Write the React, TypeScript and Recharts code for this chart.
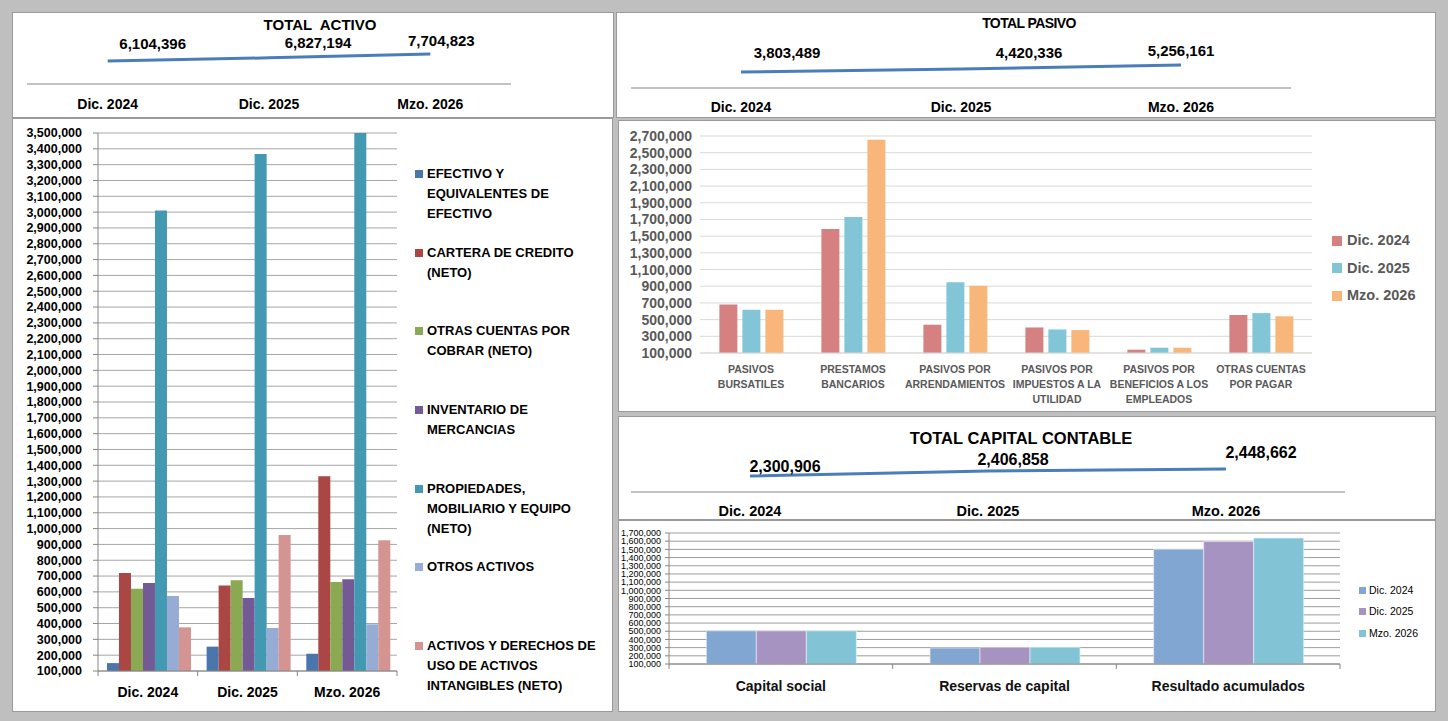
import React from 'react';
import { BarChart, Bar, LineChart, Line, XAxis, YAxis, CartesianGrid, Legend, LabelList } from 'recharts';

const FONT = '"Liberation Sans", Arial, sans-serif';

const periodos = ['Dic. 2024', 'Dic. 2025', 'Mzo. 2026'];

// totales de cabecera
const totalActivo = [6104396, 6827194, 7704823];
const totalPasivo = [3803489, 4420336, 5256161];
const totalCapital = [2300906, 2406858, 2448662];

// activo, un arreglo por rubro (Dic. 2024, Dic. 2025, Mzo. 2026)
const rubrosActivo = [
  'EFECTIVO Y EQUIVALENTES DE EFECTIVO',
  'CARTERA DE CREDITO (NETO)',
  'OTRAS CUENTAS POR COBRAR (NETO)',
  'INVENTARIO DE MERCANCIAS',
  'PROPIEDADES, MOBILIARIO Y EQUIPO (NETO)',
  'OTROS ACTIVOS',
  'ACTIVOS Y DERECHOS DE USO DE ACTIVOS INTANGIBLES (NETO)',
];
const efectivo = [150000, 254000, 209000];
const cartera = [720000, 640000, 1331000];
const otrasCxC = [620000, 673000, 663000];
const inventario = [656000, 562000, 680000];
const propiedades = [3010000, 3367000, 3500000];
const otrosActivos = [574000, 372000, 395000];
const intangibles = [376000, 960000, 926000];
const activoTicks = [
  100000, 200000, 300000, 400000, 500000, 600000, 700000, 800000, 900000, 1000000,
  1100000, 1200000, 1300000, 1400000, 1500000, 1600000, 1700000, 1800000, 1900000, 2000000,
  2100000, 2200000, 2300000, 2400000, 2500000, 2600000, 2700000, 2800000, 2900000, 3000000,
  3100000, 3200000, 3300000, 3400000, 3500000,
];

// pasivo, un arreglo por periodo
const rubrosPasivo = [
  'PASIVOS BURSATILES',
  'PRESTAMOS BANCARIOS',
  'PASIVOS POR ARRENDAMIENTOS',
  'PASIVOS POR IMPUESTOS A LA UTILIDAD',
  'PASIVOS POR BENEFICIOS A LOS EMPLEADOS',
  'OTRAS CUENTAS POR PAGAR',
];
const pasivoDic2024 = [681000, 1587000, 439000, 406000, 140000, 555000];
const pasivoDic2025 = [618000, 1730000, 949000, 382000, 163000, 578000];
const pasivoMzo2026 = [618000, 2655000, 905000, 375000, 163000, 540000];
const pasivoTicks = [
  100000, 300000, 500000, 700000, 900000, 1100000, 1300000, 1500000, 1700000, 1900000,
  2100000, 2300000, 2500000, 2700000,
];

// capital contable
const rubrosCapital = ['Capital social', 'Reservas de capital', 'Resultado acumulados'];
const capitalDic2024 = [505000, 295000, 1501000];
const capitalDic2025 = [505000, 305000, 1597000];
const capitalMzo2026 = [505000, 305000, 1639000];
const capitalTicks = [
  100000, 200000, 300000, 400000, 500000, 600000, 700000, 800000, 900000, 1000000,
  1100000, 1200000, 1300000, 1400000, 1500000, 1600000, 1700000,
];

const coloresActivo = ['#4A76AB', '#AA4643', '#8AA952', '#735A94', '#4299B1', '#96ACD4', '#D49492'];
const coloresPasivo = ['#D58181', '#82C5D7', '#F9B67A'];
const coloresCapital = ['#82A6D2', '#A693C1', '#82C3D6'];

const fmt = (v: number) => v.toLocaleString('en-US');

const activoValores = [efectivo, cartera, otrasCxC, inventario, propiedades, otrosActivos, intangibles];
const activoData = periodos.map((p, i) => {
  const row: any = { periodo: p };
  activoValores.forEach((vals, s) => {
    row['s' + s] = vals[i];
  });
  return row;
});
const pasivoData = rubrosPasivo.map((r, i) => ({
  rubro: r,
  d24: pasivoDic2024[i],
  d25: pasivoDic2025[i],
  m26: pasivoMzo2026[i],
}));
const capitalData = rubrosCapital.map((r, i) => ({
  rubro: r,
  d24: capitalDic2024[i],
  d25: capitalDic2025[i],
  m26: capitalMzo2026[i],
}));

function wrapWords(text: string, max: number) {
  const out: string[] = [];
  let cur = '';
  text.split(' ').forEach((w) => {
    const next = cur ? cur + ' ' + w : w;
    if (next.length > max && cur) {
      out.push(cur);
      cur = w;
    } else {
      cur = next;
    }
  });
  if (cur) out.push(cur);
  return out;
}

const panel: React.CSSProperties = {
  position: 'absolute',
  background: '#fff',
  boxShadow: 'inset 0 0 0 1px #9a9a9a',
};

// mini grafica de linea de los totales
function TotalLine({ width, height, margin, axisH, domain, totals, offsets, labelSize, tickDy, tickSize }: any) {
  const data = periodos.map((p, i) => ({ periodo: p, total: totals[i] }));
  return (
    <LineChart width={width} height={height} data={data} margin={margin}>
      <XAxis
        dataKey="periodo"
        scale="band"
        height={axisH}
        interval={0}
        axisLine={{ stroke: '#868686' }}
        tickLine={false}
        tickSize={0}
        tickMargin={0}
        tick={(p: any) => (
          <text x={p.x} y={p.y + tickDy} textAnchor="middle" fontFamily={FONT} fontSize={tickSize} fontWeight={700} fill="#000">
            {p.payload.value}
          </text>
        )}
      />
      <YAxis hide type="number" domain={domain} allowDataOverflow />
      <Line dataKey="total" stroke="#4A7EBB" strokeWidth={3} dot={false} isAnimationActive={false}>
        <LabelList
          dataKey="total"
          content={(p: any) => {
            const o = offsets[p.index] || [0, -12];
            return (
              <text
                x={p.x + o[0]}
                y={p.y + o[1] + labelSize * 0.36}
                textAnchor="middle"
                fontFamily={FONT}
                fontSize={labelSize}
                fontWeight={700}
                fill="#000"
              >
                {fmt(p.value)}
              </text>
            );
          }}
        />
      </Line>
    </LineChart>
  );
}

const ActivoLegend = ({ payload }: any) => (
  <div style={{ fontFamily: FONT, fontSize: 13, fontWeight: 700, color: '#000' }}>
    {(payload || []).map((e: any, i: number) => (
      <div key={i} style={{ position: 'relative', height: 78.7 }}>
        <span style={{ position: 'absolute', left: 0, top: 6, width: 8, height: 8, background: e.color }} />
        <div style={{ position: 'absolute', left: 12, top: 0, width: 176, lineHeight: '20px' }}>{e.value}</div>
      </div>
    ))}
  </div>
);

const PasivoLegend = ({ payload }: any) => (
  <div style={{ fontFamily: FONT, fontSize: 14.5, fontWeight: 700, color: '#595959' }}>
    {(payload || []).map((e: any, i: number) => (
      <div key={i} style={{ position: 'relative', height: 27.5 }}>
        <span style={{ position: 'absolute', left: 0, top: 8.75, width: 10, height: 10, background: e.color }} />
        <div style={{ position: 'absolute', left: 15, top: 0, lineHeight: '27.5px', whiteSpace: 'nowrap' }}>{e.value}</div>
      </div>
    ))}
  </div>
);

const CapitalLegend = ({ payload }: any) => (
  <div style={{ fontFamily: FONT, fontSize: 10.5, color: '#000' }}>
    {(payload || []).map((e: any, i: number) => (
      <div key={i} style={{ position: 'relative', height: 21.3 }}>
        <span style={{ position: 'absolute', left: 0, top: 7, width: 7, height: 7, background: e.color }} />
        <div style={{ position: 'absolute', left: 10, top: 0, lineHeight: '21.3px', whiteSpace: 'nowrap' }}>{e.value}</div>
      </div>
    ))}
  </div>
);

export default function App() {
  const activoBand = 299 / 3;
  const capitalBand = 671 / 3;
  return (
    <div
      style={{
        position: 'absolute',
        left: 0,
        top: 0,
        width: 1448,
        height: 721,
        background: '#bfbfbf',
        overflow: 'hidden',
        fontFamily: FONT,
      }}
    >
      {/* TOTAL ACTIVO */}
      <div style={{ ...panel, left: 12, top: 12, width: 602, height: 106 }}>
        <div style={{ position: 'absolute', left: 308, top: 5, transform: 'translateX(-50%)', fontSize: 15, fontWeight: 700, lineHeight: '16px', whiteSpace: 'pre' }}>
          {'TOTAL  ACTIVO'}
        </div>
        <div style={{ position: 'absolute', left: 0, top: 0 }}>
          <TotalLine
            width={602}
            height={106}
            margin={{ top: 8, right: 103, bottom: 0, left: 15 }}
            axisH={34}
            domain={[845850, 15478325]}
            totals={totalActivo}
            offsets={[[45, -17], [49, -15], [11, -13]]}
            labelSize={15}
            tickDy={25}
            tickSize={14}
          />
        </div>
      </div>

      {/* barras del activo */}
      <div style={{ ...panel, left: 12, top: 118, width: 601, height: 594 }}>
        <div style={{ position: 'absolute', left: 0, top: 0 }}>
          <BarChart width={600} height={594} data={activoData} margin={{ top: 15, right: 215, bottom: 0, left: 0 }} barCategoryGap="9%" barGap={0}>
            <CartesianGrid vertical={false} stroke="#a6a6a6" />
            <XAxis
              dataKey="periodo"
              height={41}
              interval={0}
              axisLine={{ stroke: '#868686' }}
              tickLine={false}
              tickSize={0}
              tickMargin={0}
              tick={(p: any) => (
                <g>
                  <line x1={p.x - activoBand / 2} x2={p.x - activoBand / 2} y1={p.y} y2={p.y + 5} stroke="#868686" />
                  {p.index === 2 && <line x1={p.x + activoBand / 2} x2={p.x + activoBand / 2} y1={p.y} y2={p.y + 5} stroke="#868686" />}
                  <text x={p.x} y={p.y + 26} textAnchor="middle" fontFamily={FONT} fontSize={14} fontWeight={700} fill="#000">
                    {p.payload.value}
                  </text>
                </g>
              )}
            />
            <YAxis
              type="number"
              width={86}
              domain={[100000, 3500000]}
              ticks={activoTicks}
              interval={0}
              allowDataOverflow
              axisLine={{ stroke: '#868686' }}
              tickLine={{ stroke: '#868686' }}
              tickSize={5}
              tickMargin={11}
              tickFormatter={fmt}
              tick={{ fontFamily: FONT, fontSize: 12.5, fontWeight: 700, fill: '#000' }}
            />
            <Legend
              layout="vertical"
              align="center"
              verticalAlign="middle"
              itemSorter="dataKey"
              wrapperStyle={{ left: 403, top: 46, width: 192 }}
              content={<ActivoLegend />}
            />
            {rubrosActivo.map((name, s) => (
              <Bar key={s} dataKey={'s' + s} name={name} fill={coloresActivo[s]} isAnimationActive={false} />
            ))}
          </BarChart>
        </div>
      </div>

      {/* TOTAL PASIVO */}
      <div style={{ ...panel, left: 616, top: 12, width: 820, height: 106 }}>
        <div style={{ position: 'absolute', left: 413, top: 3, transform: 'translateX(-50%)', fontSize: 14, fontWeight: 700, lineHeight: '16px', letterSpacing: -0.6, whiteSpace: 'nowrap' }}>
          TOTAL PASIVO
        </div>
        <div style={{ position: 'absolute', left: 0, top: 0 }}>
          <TotalLine
            width={820}
            height={106}
            margin={{ top: 8, right: 145, bottom: 0, left: 15 }}
            axisH={30}
            domain={[483095, 14594768]}
            totals={totalPasivo}
            offsets={[[46, -19], [68, -16], [0, -14]]}
            labelSize={15}
            tickDy={24}
            tickSize={14}
          />
        </div>
      </div>

      {/* barras del pasivo */}
      <div style={{ ...panel, left: 618, top: 120, width: 818, height: 292 }}>
        <div style={{ position: 'absolute', left: 0, top: 0 }}>
          <BarChart width={818} height={292} data={pasivoData} margin={{ top: 16, right: 124, bottom: 0, left: 0 }} barCategoryGap="19%" barGap={5}>
            <CartesianGrid vertical={false} stroke="#d9d9d9" />
            <XAxis
              dataKey="rubro"
              height={59}
              interval={0}
              axisLine={{ stroke: '#d9d9d9' }}
              tickLine={false}
              tickSize={0}
              tickMargin={0}
              tick={(p: any) => (
                <text textAnchor="middle" fontFamily={FONT} fontSize={10.5} fontWeight={700} fill="#595959">
                  {wrapWords(p.payload.value, 16).map((l, i) => (
                    <tspan key={i} x={p.x} y={p.y + 15.7 + i * 15 + 3.8}>
                      {l}
                    </tspan>
                  ))}
                </text>
              )}
            />
            <YAxis
              type="number"
              width={82}
              domain={[100000, 2700000]}
              ticks={pasivoTicks}
              interval={0}
              allowDataOverflow
              axisLine={false}
              tickLine={false}
              tickSize={0}
              tickMargin={8}
              tickFormatter={fmt}
              tick={{ fontFamily: FONT, fontSize: 14, fontWeight: 700, fill: '#595959' }}
            />
            <Legend
              layout="vertical"
              align="center"
              verticalAlign="middle"
              itemSorter="dataKey"
              wrapperStyle={{ left: 714, top: 107, width: 100 }}
              content={<PasivoLegend />}
            />
            <Bar dataKey="d24" name={periodos[0]} fill={coloresPasivo[0]} isAnimationActive={false} />
            <Bar dataKey="d25" name={periodos[1]} fill={coloresPasivo[1]} isAnimationActive={false} />
            <Bar dataKey="m26" name={periodos[2]} fill={coloresPasivo[2]} isAnimationActive={false} />
          </BarChart>
        </div>
      </div>

      {/* TOTAL CAPITAL CONTABLE */}
      <div style={{ ...panel, left: 618, top: 416, width: 818, height: 104 }}>
        <div style={{ position: 'absolute', left: 403, top: 13, transform: 'translateX(-50%)', fontSize: 16.5, fontWeight: 700, lineHeight: '18px', whiteSpace: 'nowrap' }}>
          TOTAL CAPITAL CONTABLE
        </div>
        <div style={{ position: 'absolute', left: 0, top: 0 }}>
          <TotalLine
            width={818}
            height={104}
            margin={{ top: 14, right: 91, bottom: 0, left: 13 }}
            axisH={28}
            domain={[1963178, 3271874]}
            totals={totalCapital}
            offsets={[[35, -10], [25, -12], [35, -17]]}
            labelSize={16}
            tickDy={24}
            tickSize={14.5}
          />
        </div>
      </div>

      {/* barras del capital */}
      <div style={{ ...panel, left: 618, top: 520, width: 818, height: 192 }}>
        <div style={{ position: 'absolute', left: 0, top: 0 }}>
          <BarChart width={818} height={192} data={capitalData} margin={{ top: 13, right: 96, bottom: 0, left: 0 }} barCategoryGap="16.7%" barGap={0}>
            <CartesianGrid vertical={false} stroke="#9c9c9c" />
            <XAxis
              dataKey="rubro"
              height={48}
              interval={0}
              axisLine={{ stroke: '#868686' }}
              tickLine={false}
              tickSize={0}
              tickMargin={0}
              tick={(p: any) => (
                <g>
                  <line x1={p.x - capitalBand / 2} x2={p.x - capitalBand / 2} y1={p.y} y2={p.y + 5} stroke="#868686" />
                  {p.index === 2 && <line x1={p.x + capitalBand / 2} x2={p.x + capitalBand / 2} y1={p.y} y2={p.y + 5} stroke="#868686" />}
                  <text x={p.x} y={p.y + 27} textAnchor="middle" fontFamily={FONT} fontSize={14} fontWeight={700} fill="#111">
                    {p.payload.value}
                  </text>
                </g>
              )}
            />
            <YAxis
              type="number"
              width={51}
              domain={[100000, 1700000]}
              ticks={capitalTicks}
              interval={0}
              allowDataOverflow
              axisLine={{ stroke: '#868686' }}
              tickLine={{ stroke: '#868686' }}
              tickSize={4}
              tickMargin={4}
              tickFormatter={fmt}
              tick={{ fontFamily: FONT, fontSize: 9, fill: '#000' }}
            />
            <Legend
              layout="vertical"
              align="center"
              verticalAlign="middle"
              itemSorter="dataKey"
              wrapperStyle={{ left: 741, top: 60, width: 75 }}
              content={<CapitalLegend />}
            />
            <Bar dataKey="d24" name={periodos[0]} fill={coloresCapital[0]} stroke="#dfe8f3" strokeWidth={0.7} isAnimationActive={false} />
            <Bar dataKey="d25" name={periodos[1]} fill={coloresCapital[1]} stroke="#ece6f3" strokeWidth={0.7} isAnimationActive={false} />
            <Bar dataKey="m26" name={periodos[2]} fill={coloresCapital[2]} stroke="#e3f3f7" strokeWidth={0.7} isAnimationActive={false} />
          </BarChart>
        </div>
      </div>
    </div>
  );
}
